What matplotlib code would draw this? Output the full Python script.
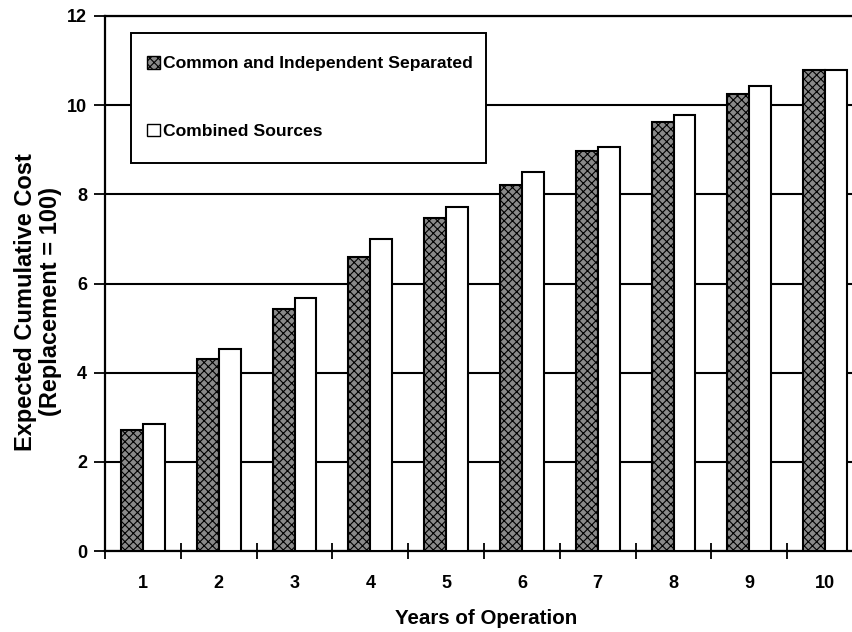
import numpy as np
import matplotlib
matplotlib.use("Agg")
import matplotlib.pyplot as plt
from matplotlib.patches import Rectangle, Patch

plt.rcParams["font.family"] = ["Liberation Sans", "DejaVu Sans"]
plt.rcParams["hatch.linewidth"] = 0.8

# data
years = [1, 2, 3, 4, 5, 6, 7, 8, 9, 10]
separated = [2.71, 4.31, 5.43, 6.60, 7.48, 8.21, 8.97, 9.63, 10.26, 10.80]
combined = [2.84, 4.52, 5.68, 7.00, 7.72, 8.51, 9.07, 9.77, 10.43, 10.80]
labels = ["Common and Independent Separated", "Combined Sources"]

fig = plt.figure(figsize=(8.52, 6.32), dpi=100)
# axes runs past the right edge of the figure, as in the scan
ax = fig.add_axes([105 / 852, 81 / 632, 758 / 852, 535 / 632])

x = np.array(years)
w = 0.29
ax.bar(x - w / 2, separated, w, facecolor="#8a8a8a", edgecolor="black",
       hatch="xxxx", linewidth=1.5, zorder=3)
ax.bar(x + w / 2, combined, w, facecolor="white", edgecolor="black",
       linewidth=1.5, zorder=3)

ax.set_xlim(0.5, 10.5)
ax.set_ylim(0, 12)
ax.set_yticks(np.arange(0, 13, 2))
ax.yaxis.grid(True, color="black", linewidth=1.5, zorder=0)
ax.set_axisbelow(True)

ax.set_xticks(x)
ax.set_xticks(np.arange(0.5, 11, 1), minor=True)
ax.tick_params(axis="x", which="major", length=0, pad=17, labelsize=13)
ax.tick_params(axis="x", which="minor", length=12, direction="inout", width=1.3)
ax.tick_params(axis="y", length=16, direction="inout", width=1.3, labelsize=13, pad=5)
for lab in ax.get_xticklabels() + ax.get_yticklabels():
    lab.set_fontweight("bold")

for s in ax.spines.values():
    s.set_linewidth(1.6)

ax.set_xlabel("Years of Operation", fontsize=14.8, fontweight="bold", va="center")
ax.xaxis.set_label_coords((486 - 105) / 758, (551 - 619) / 535)
ax.set_ylabel("Expected Cumulative Cost\n(Replacement = 100)", fontsize=17,
              fontweight="bold", linespacing=1.12, va="center")
ax.yaxis.set_label_coords((38 - 105) / 758, (551 - 302) / 535)

# legend box
box = Rectangle((0.0343, 0.725), 0.468, 0.243, transform=ax.transAxes,
                facecolor="white", edgecolor="black", linewidth=1.4, zorder=4)
ax.add_patch(box)
handles = [Patch(facecolor="#8a8a8a", edgecolor="black", hatch="xxxx", linewidth=1.0),
           Patch(facecolor="white", edgecolor="black", linewidth=1.0)]
leg = ax.legend(handles, labels, loc="upper left", bbox_to_anchor=(0.0554, 0.925),
                frameon=False, borderpad=0, borderaxespad=0, handlelength=0.72,
                handleheight=0.72, handletextpad=0.18, labelspacing=3.0,
                prop={"size": 12.6, "weight": "bold"})
leg.set_zorder(5)

fig.savefig("out.png", dpi=100)
